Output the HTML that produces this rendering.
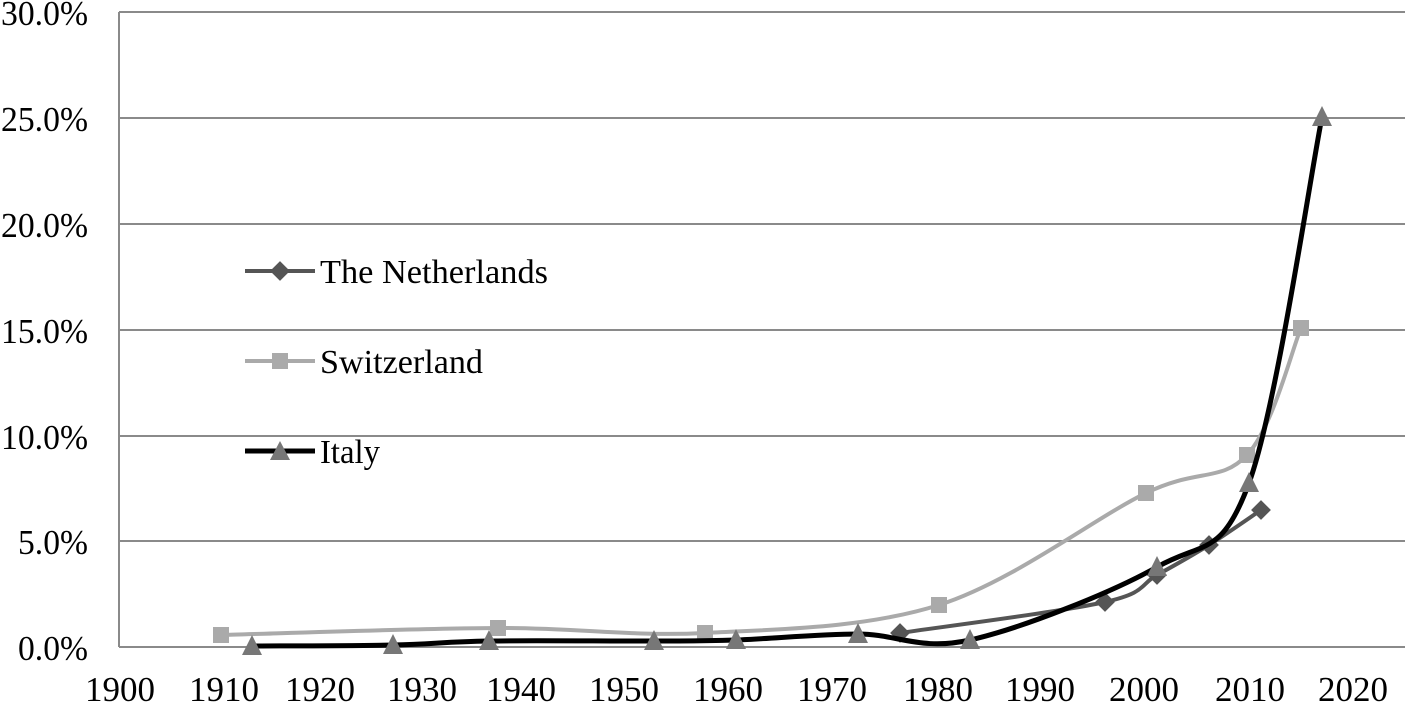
<!DOCTYPE html>
<html><head><meta charset="utf-8"><style>
html,body{margin:0;padding:0;background:#fff;}
svg{display:block;font-family:"Liberation Serif",serif;}
</style></head><body>
<svg id="c" width="1405" height="702" xmlns="http://www.w3.org/2000/svg">
<g stroke="#8a8a8a" stroke-width="2">
<line x1="119" y1="12" x2="1405" y2="12"/>
<line x1="119" y1="118" x2="1405" y2="118"/>
<line x1="119" y1="224" x2="1405" y2="224"/>
<line x1="119" y1="330" x2="1405" y2="330"/>
<line x1="119" y1="436" x2="1405" y2="436"/>
<line x1="119" y1="541" x2="1405" y2="541"/>
<line x1="119" y1="647" x2="1405" y2="647"/>
<line x1="119" y1="12" x2="119" y2="647"/>
</g>
<g font-size="35" fill="#000">
<text x="1" y="25" textLength="87" lengthAdjust="spacingAndGlyphs">30.0%</text>
<text x="1" y="131" textLength="87" lengthAdjust="spacingAndGlyphs">25.0%</text>
<text x="1" y="237" textLength="87" lengthAdjust="spacingAndGlyphs">20.0%</text>
<text x="1" y="343" textLength="87" lengthAdjust="spacingAndGlyphs">15.0%</text>
<text x="1" y="449" textLength="87" lengthAdjust="spacingAndGlyphs">10.0%</text>
<text x="18" y="554" textLength="70" lengthAdjust="spacingAndGlyphs">5.0%</text>
<text x="18" y="660" textLength="70" lengthAdjust="spacingAndGlyphs">0.0%</text>
</g>
<g font-size="35" fill="#000">
<text x="85" y="701" textLength="70" lengthAdjust="spacingAndGlyphs">1900</text>
<text x="189" y="701" textLength="70" lengthAdjust="spacingAndGlyphs">1910</text>
<text x="285" y="701" textLength="70" lengthAdjust="spacingAndGlyphs">1920</text>
<text x="387" y="701" textLength="70" lengthAdjust="spacingAndGlyphs">1930</text>
<text x="486" y="701" textLength="70" lengthAdjust="spacingAndGlyphs">1940</text>
<text x="589" y="701" textLength="70" lengthAdjust="spacingAndGlyphs">1950</text>
<text x="693" y="701" textLength="70" lengthAdjust="spacingAndGlyphs">1960</text>
<text x="797" y="701" textLength="70" lengthAdjust="spacingAndGlyphs">1970</text>
<text x="903" y="701" textLength="70" lengthAdjust="spacingAndGlyphs">1980</text>
<text x="1005" y="701" textLength="70" lengthAdjust="spacingAndGlyphs">1990</text>
<text x="1109" y="701" textLength="70" lengthAdjust="spacingAndGlyphs">2000</text>
<text x="1215" y="701" textLength="70" lengthAdjust="spacingAndGlyphs">2010</text>
<text x="1318" y="701" textLength="70" lengthAdjust="spacingAndGlyphs">2020</text>
</g>
<g id="series"></g>
<g font-size="34" fill="#000">
<line x1="245" y1="271" x2="315" y2="271" stroke="#555" stroke-width="4"/>
<rect x="273" y="264" width="14" height="14" fill="#555" transform="rotate(45 280 271)"/>
<text x="320" y="283" textLength="228" lengthAdjust="spacingAndGlyphs">The Netherlands</text>
<line x1="245" y1="361" x2="315" y2="361" stroke="#aaa" stroke-width="4"/>
<rect x="272" y="353" width="16" height="16" fill="#aaa"/>
<text x="320" y="373" textLength="163" lengthAdjust="spacingAndGlyphs">Switzerland</text>
<line x1="245" y1="451" x2="315" y2="451" stroke="#000" stroke-width="5"/>
<polygon points="280,441 290,460 270,460" fill="#777"/>
<text x="320" y="463" textLength="60" lengthAdjust="spacingAndGlyphs">Italy</text>
</g>
</svg>
<script>
function path(p){
  var d="M"+p[0][0]+","+p[0][1];
  for(var i=0;i<p.length-1;i++){
    var p0=p[i-1]||p[i],p1=p[i],p2=p[i+1],p3=p[i+2]||p2,t=6;
    var c1=[p1[0]+(p2[0]-p0[0])/t,p1[1]+(p2[1]-p0[1])/t];
    var c2=[p2[0]-(p3[0]-p1[0])/t,p2[1]-(p3[1]-p1[1])/t];
    d+=" C"+c1+" "+c2+" "+p2;
  }
  return d;
}
var ns="http://www.w3.org/2000/svg",g=document.getElementById("series");
function el(n,a){var e=document.createElementNS(ns,n);for(var k in a)e.setAttribute(k,a[k]);g.appendChild(e);return e;}
var sw=[[221,635],[498,628],[705,633],[939,605],[1146,493],[1247,455],[1301,328]];
var nl=[[900,633],[1105,602],[1157,575],[1209,545],[1261,510]];
var it=[[252,646],[393,645],[489,641],[654,641],[736,640],[858,634],[970,640],[1157,567],[1249,483],[1322,117]];
el("path",{d:path(sw),fill:"none",stroke:"#aaa","stroke-width":4});
sw.forEach(function(p){el("rect",{x:p[0]-8,y:p[1]-8,width:16,height:16,fill:"#aaa"});});
el("path",{d:path(nl),fill:"none",stroke:"#555","stroke-width":4});
nl.forEach(function(p){el("rect",{x:p[0]-7,y:p[1]-7,width:14,height:14,fill:"#555",transform:"rotate(45 "+p[0]+" "+p[1]+")"});});
el("path",{d:path(it),fill:"none",stroke:"#000","stroke-width":5});
it.forEach(function(p){el("polygon",{points:p[0]+","+(p[1]-11)+" "+(p[0]+10)+","+(p[1]+9)+" "+(p[0]-10)+","+(p[1]+9),fill:"#777"});});
</script>
</body></html>
